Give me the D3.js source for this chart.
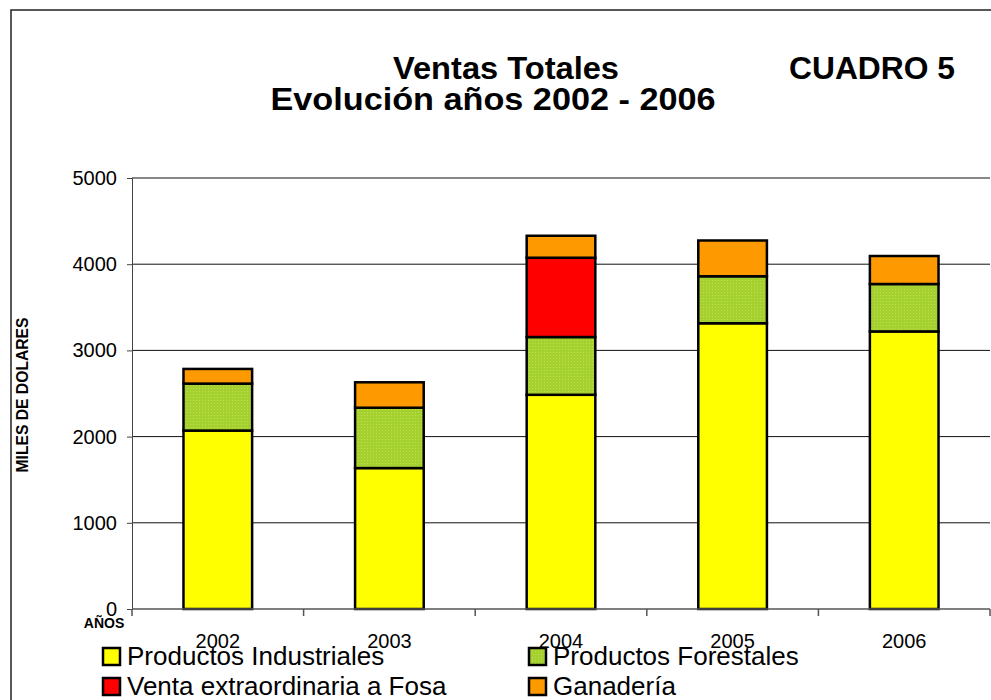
<!DOCTYPE html>
<html><head><meta charset="utf-8">
<script src="https://cdn.jsdelivr.net/npm/d3@7"></script>
<style>body{margin:0;background:#fff}svg{display:block;font-family:"Liberation Sans",Arial,sans-serif}</style>
</head><body>
<svg id="c" width="991" height="700"></svg>
<script>
const years = ["2002","2003","2004","2005","2006"];
const seriesNames = ["Productos Industriales","Productos Forestales","Venta extraordinaria a Fosa","Ganadería"];
const industriales = [2070,1635,2485,3315,3220];
const forestales = [545,700,670,545,550];
const fosa = [0,0,920,0,0];
const ganaderia = [170,295,255,415,325];
const yTicks = [0,1000,2000,3000,4000,5000];

const svg = d3.select("#c");
const defs = svg.append("defs");
const pat = defs.append("pattern").attr("id","dots").attr("width",3).attr("height",3).attr("patternUnits","userSpaceOnUse");
pat.append("rect").attr("width",3).attr("height",3).attr("fill","#a4d030");
pat.append("rect").attr("x",1).attr("y",1).attr("width",1).attr("height",1).attr("fill","#c0e048");
const colors = ["#ffff00","url(#dots)","#ff0000","#ff9900"];

// frame
svg.append("rect").attr("x",11).attr("y",10).attr("width",990).attr("height",700)
  .attr("fill","none").attr("stroke","#222").attr("stroke-width",1.5);

const x = d3.scaleBand().domain(years).range([132,990]).padding(0);
const y = d3.scaleLinear().domain([0,5000]).range([609,178]);

// gridlines
svg.append("g").selectAll("line").data(yTicks.filter(d=>d>0)).join("line")
  .attr("x1",132).attr("x2",990).attr("y1",d=>y(d)).attr("y2",d=>y(d))
  .attr("stroke","#111").attr("stroke-width",1);

// y axis
const yAxis = svg.append("g").attr("transform","translate(132,0)")
  .call(d3.axisLeft(y).tickValues(yTicks).tickSize(5).tickPadding(10).tickFormat(d3.format("d")));
yAxis.select(".domain").attr("stroke","#444");
yAxis.selectAll(".tick line").attr("stroke","#444");
yAxis.selectAll("text").attr("font-size",20).attr("fill","#000").attr("font-family","Liberation Sans, Arial, sans-serif");

// stacked data
const rows = years.map((yr,i)=>({year:yr, s0:industriales[i], s1:forestales[i], s2:fosa[i], s3:ganaderia[i]}));
const stack = d3.stack().keys(["s0","s1","s2","s3"])(rows);
const bw = x.bandwidth()*0.4;
stack.forEach((layer,k)=>{
  svg.append("g").selectAll("rect").data(layer.filter(d=>d[1]-d[0]>0)).join("rect")
    .attr("x",d=>x(d.data.year)+x.bandwidth()/2-bw/2)
    .attr("width",bw)
    .attr("y",d=>y(d[1]))
    .attr("height",d=>y(d[0])-y(d[1]))
    .attr("fill",colors[k]).attr("stroke","#000").attr("stroke-width",2.5);
});

// x axis
svg.append("line").attr("x1",132).attr("x2",990).attr("y1",y(0)).attr("y2",y(0)).attr("stroke","#555").attr("stroke-width",1.5);
const bounds = years.map(d=>x(d)).concat([x.range()[1]]);
svg.append("g").selectAll("line").data(bounds).join("line")
  .attr("x1",d=>d).attr("x2",d=>d).attr("y1",y(0)).attr("y2",y(0)+7).attr("stroke","#555").attr("stroke-width",1.5);
svg.append("g").selectAll("text").data(years).join("text")
  .attr("x",d=>x(d)+x.bandwidth()/2).attr("y",648).attr("text-anchor","middle")
  .attr("font-size",20).text(d=>d);

// axis titles
svg.append("text").attr("transform","translate(28,395) rotate(-90)").attr("text-anchor","middle")
  .attr("font-size",16).attr("font-weight","bold").attr("textLength",155).attr("lengthAdjust","spacingAndGlyphs").text("MILES DE DOLARES");
svg.append("text").attr("x",104).attr("y",628).attr("text-anchor","middle")
  .attr("font-size",14).attr("font-weight","bold").text("AÑOS");

// titles
svg.append("text").attr("x",506).attr("y",79).attr("text-anchor","middle").attr("font-size",32).attr("font-weight","bold").attr("textLength",226).attr("lengthAdjust","spacingAndGlyphs").text("Ventas Totales");
svg.append("text").attr("x",493).attr("y",110).attr("text-anchor","middle").attr("font-size",32).attr("font-weight","bold").attr("textLength",445).attr("lengthAdjust","spacingAndGlyphs").text("Evolución años 2002 - 2006");
svg.append("text").attr("x",872).attr("y",79).attr("text-anchor","middle").attr("font-size",32).attr("font-weight","bold").attr("textLength",166).attr("lengthAdjust","spacingAndGlyphs").text("CUADRO 5");

// legend
const legPos = [[102,647],[528,647],[102,677],[528,677]];
const leg = svg.append("g").selectAll("g").data(seriesNames).join("g")
  .attr("transform",(d,i)=>`translate(${legPos[i][0]},${legPos[i][1]})`);
leg.append("rect").attr("x",1).attr("y",1).attr("width",17).attr("height",17)
  .attr("fill",(d,i)=>colors[i]).attr("stroke","#000").attr("stroke-width",2.5);
leg.append("text").attr("x",25).attr("y",18).attr("font-size",26).text(d=>d);
</script>
</body></html>
